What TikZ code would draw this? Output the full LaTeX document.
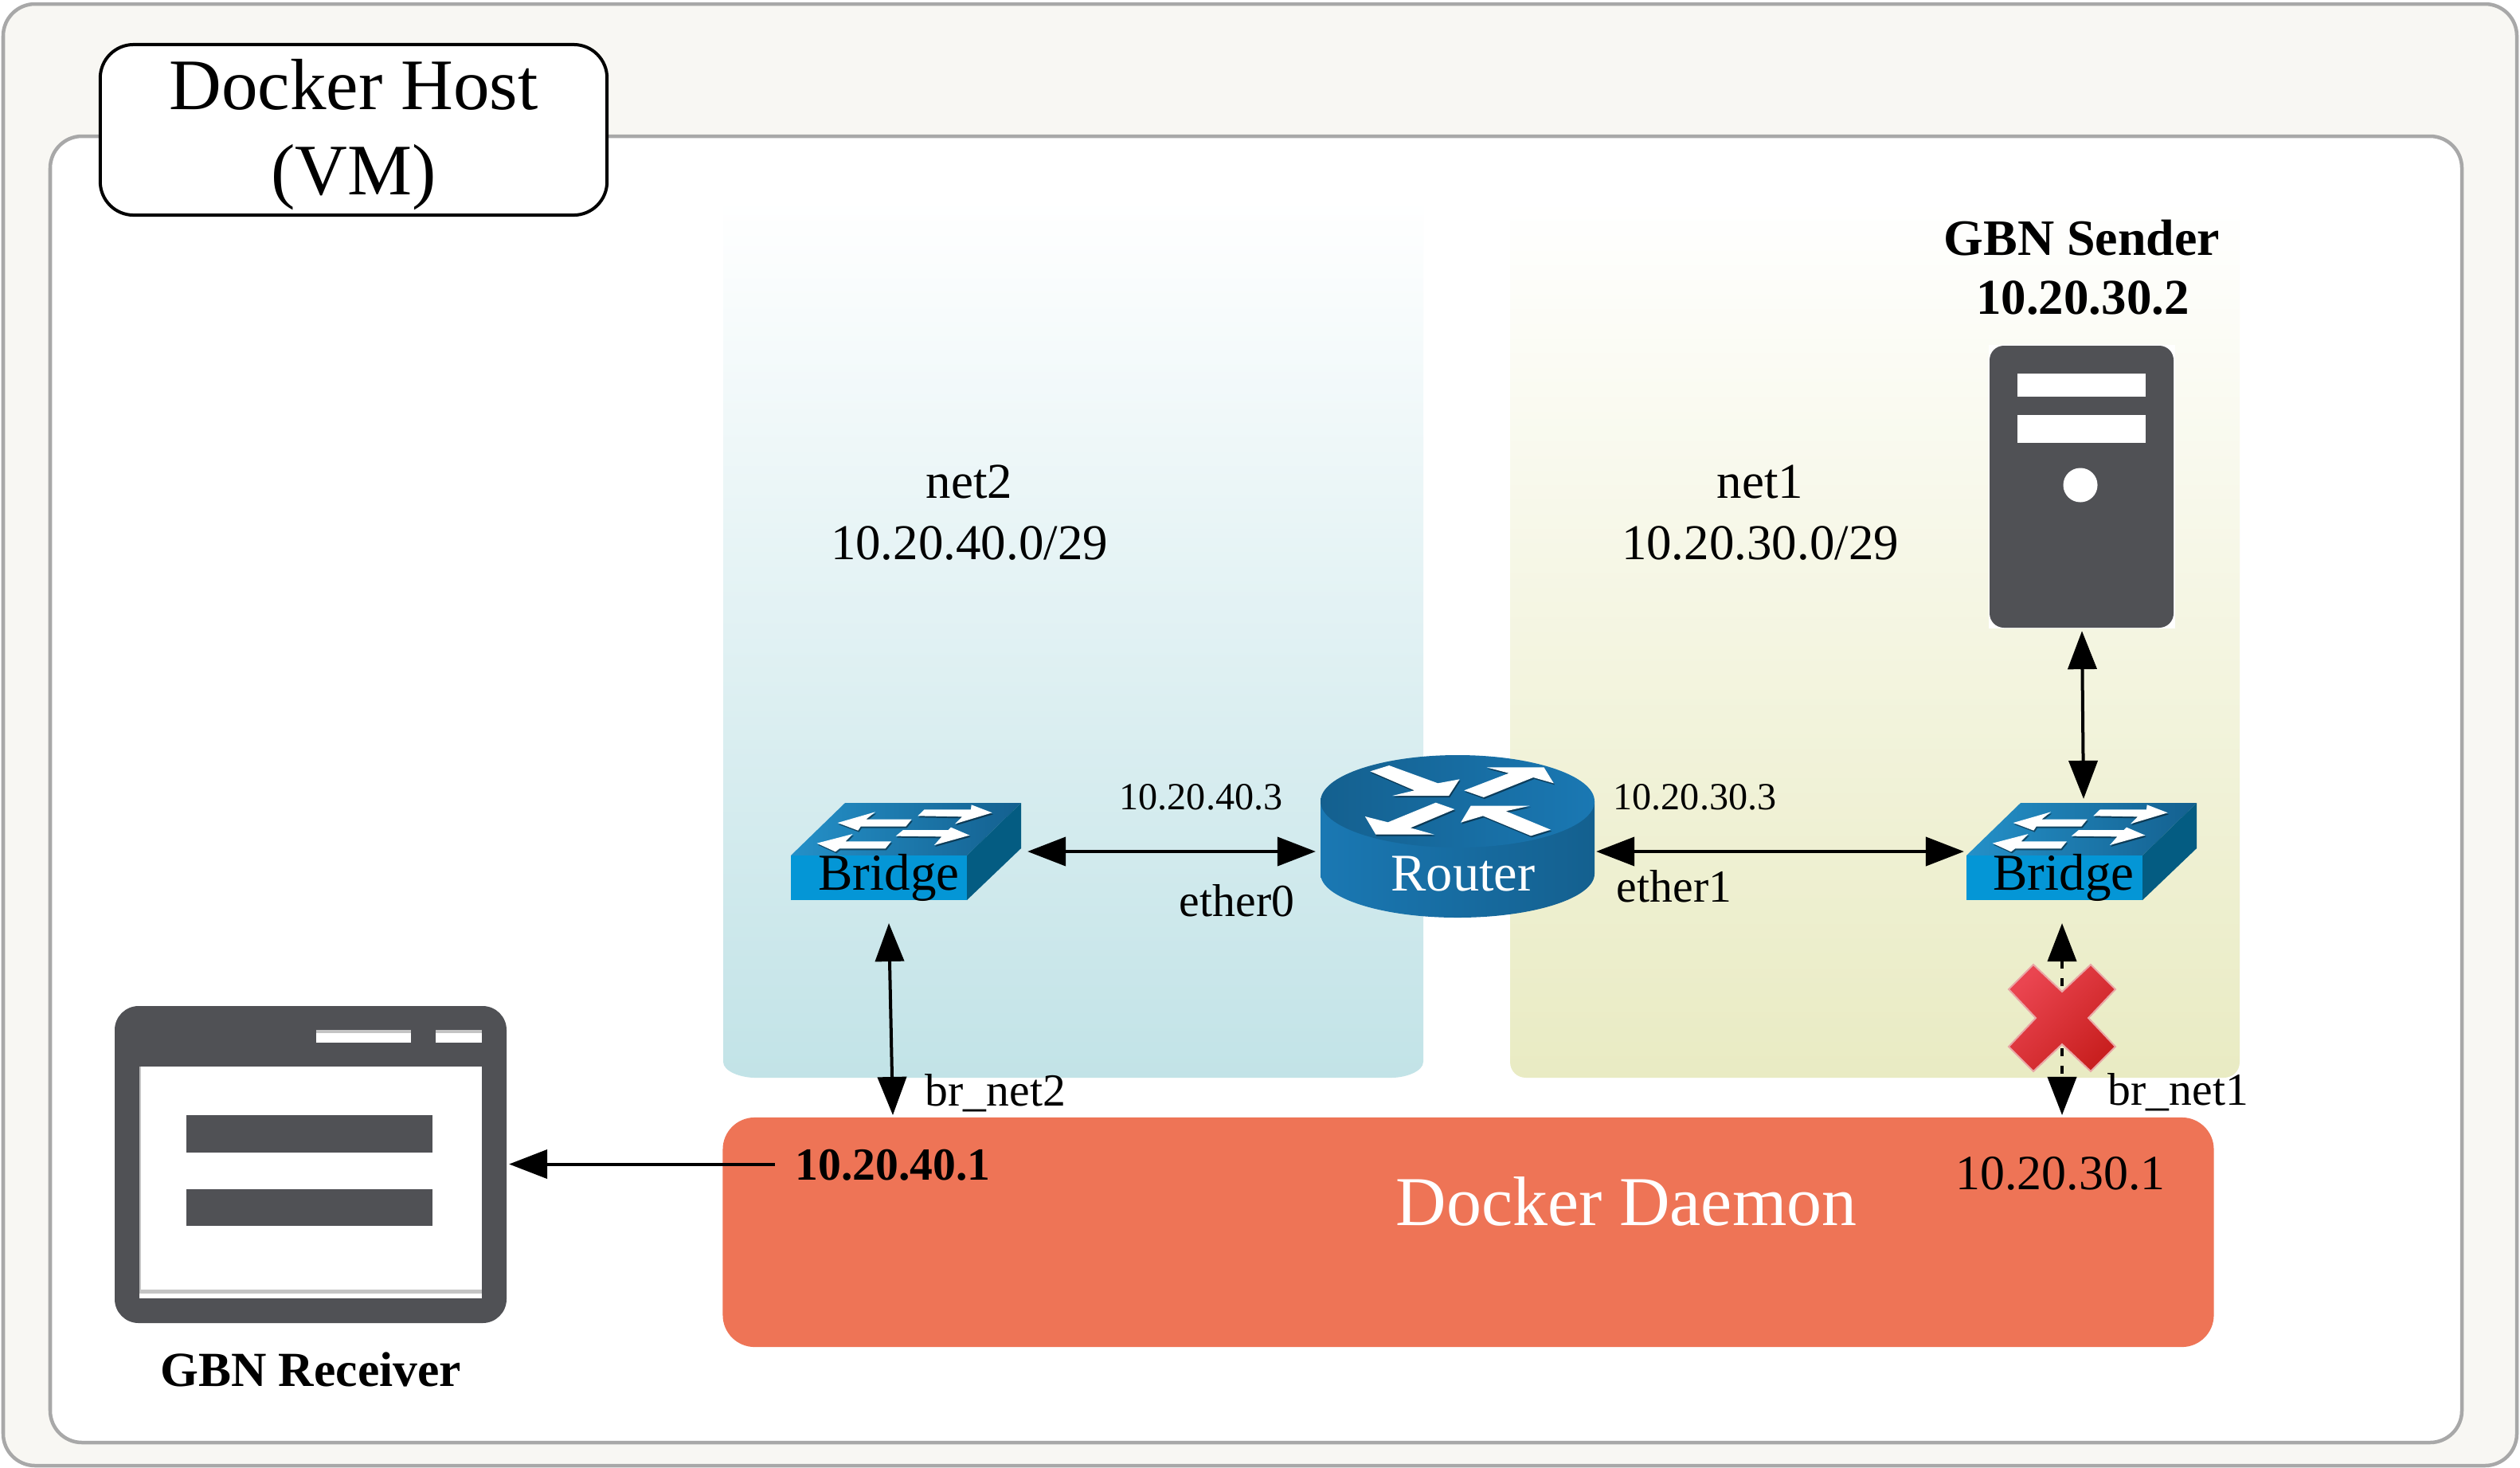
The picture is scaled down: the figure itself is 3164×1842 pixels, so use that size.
\documentclass[tikz,border=0pt]{standalone}
\usepackage{fontspec}
\setmainfont{Liberation Serif}
\usetikzlibrary{arrows.meta,shadows}
\definecolor{framegray}{HTML}{A8A8A8}
\definecolor{hostfill}{HTML}{F8F7F3}
\definecolor{panelblue}{HTML}{C2E3E7}
\definecolor{panelolive}{HTML}{E9EBC3}
\definecolor{daemon}{HTML}{EE7456}
\definecolor{icongray}{HTML}{505155}
\definecolor{ciscolight}{HTML}{1A78B3}
\definecolor{ciscodark}{HTML}{14608F}
\definecolor{bridgefront}{HTML}{0496D6}
\definecolor{bridgeside}{HTML}{045C82}
\definecolor{bridgetop}{HTML}{2490C8}
\definecolor{crosslight}{HTML}{EA4550}
\definecolor{crossdark}{HTML}{C92020}
\newcommand{\fs}[1]{\fontsize{#1}{#1}\selectfont}
\tikzset{
	frame/.style={draw=framegray,line width=0.045cm,rounded corners=0.4cm},
	link/.style={line width=0.04cm,{Triangle[length=0.48cm,width=0.36cm]}-{Triangle[length=0.48cm,width=0.36cm]}},
	onelink/.style={line width=0.04cm,{Triangle[length=0.48cm,width=0.36cm]}-},
	devbox/.style={inner sep=0pt,outer sep=0pt},
	lab/.style={anchor=base,inner sep=0pt,outer sep=0pt},
	iconarrow/.style={fill=white,drop shadow={shadow xshift=0.012cm,shadow yshift=-0.02cm,opacity=0.45,fill=black}},
	bridgeicon/.pic={
		\shade[left color=bridgetop,right color=ciscodark] (0,66) -- (68,0) -- (289,0) -- (221,66) -- cycle;
		\fill[bridgefront] (0,66) rectangle (221,122);
		\fill[bridgeside] (221,66) -- (289,0) -- (289,57) -- (221,122) -- cycle;
		\begin{scope}[shift={(-119,-57.67)},scale=0.3333]
			\fill[iconarrow] (533,248) -- (675,207) -- (640,235) -- (812,235) -- (790,262) -- (620,262) -- (610,277) -- cycle;
			\fill[iconarrow] (835,222) -- (860,198) -- (1035,198) -- (1037,180) -- (1115,210) -- (975,252) -- (1002,225) -- cycle;
			\fill[iconarrow] (455,325) -- (590,290) -- (563,318) -- (735,318) -- (713,345) -- (540,345) -- (525,357) -- cycle;
			\fill[iconarrow] (752,298) -- (780,275) -- (950,275) -- (960,265) -- (1030,295) -- (897,332) -- (925,300) -- cycle;
		\end{scope}
	}
}
\begin{document}
\begin{tikzpicture}[x=0.01cm,y=-0.01cm]
	\useasboundingbox (0,0) rectangle (3164,1842);
	% host and VM frames
	\draw[frame,fill=hostfill] (4,5) rectangle (3160,1840);
	\draw[frame,fill=white] (63,171) rectangle (3091,1811);

	% the two networks
	\shade[top color=white,bottom color=panelblue] (908,250) -- (908,1333) .. controls (908,1345) and (930,1353) .. (948,1353) -- (1747,1353) .. controls (1765,1353) and (1787,1345) .. (1787,1333) -- (1787,250) -- cycle;
	\shade[top color=white,bottom color=panelolive] (1896,250) -- (1896,1333) .. controls (1896,1345) and (1905,1353) .. (1916,1353) -- (2792,1353) .. controls (2803,1353) and (2812,1345) .. (2812,1333) -- (2812,250) -- cycle;

	\node[draw=black,fill=white,line width=0.04cm,rounded corners=0.42cm,minimum width=6.36cm,minimum height=2.14cm,align=center,inner sep=0pt,font=\fontsize{25.9}{30.4}\selectfont] (HostLabel) at (444,163) {\rule{0pt}{0.76cm}Docker Host\\(VM)};

	\node[fill=daemon,rounded corners=0.4cm,minimum width=18.71cm,minimum height=2.88cm,inner sep=0pt] (Daemon) at (1843.5,1547) {};

	% devices
	\pic at (993,1008) {bridgeicon};
	\pic at (2469,1008) {bridgeicon};
	\shade[left color=ciscolight,right color=ciscodark] (1658,1006) -- (1658,1097) arc[start angle=180,end angle=0,x radius=172,y radius=55] -- (2002,1006) -- cycle;
	\shade[left color=ciscodark,right color=ciscolight] (1830,1006) ellipse [x radius=172,y radius=58];
	\begin{scope}[shift={(1640,930)},xscale=0.3827,yscale=0.3333]
		\fill[iconarrow] (210,115) -- (272,93) -- (432,160) -- (503,145) -- (468,207) -- (283,207) -- (355,187) -- cycle;
		\fill[iconarrow] (518,187) -- (665,122) -- (592,100) -- (780,100) -- (812,160) -- (745,138) -- (582,213) -- cycle;
		\fill[iconarrow] (487,258) -- (425,233) -- (268,307) -- (193,285) -- (228,353) -- (420,353) -- (342,328) -- cycle;
		\fill[iconarrow] (507,308) -- (580,283) -- (737,358) -- (802,335) -- (655,265) -- (733,245) -- (540,245) -- cycle;
	\end{scope}

	% GBN sender
	\fill[white] (2497,433) rectangle (2731,789);
	\fill[icongray,rounded corners=0.18cm] (2498,434) rectangle (2729,788);
	\fill[white] (2533,469) rectangle (2694,497.5);
	\fill[white] (2533,521) rectangle (2694,556);
	\fill[white] (2612,609) circle (0.215cm);

	% GBN receiver
	\fill[icongray,rounded corners=0.3cm] (144,1263) rectangle (636,1661);
	\fill[white] (175,1339) rectangle (605,1630);
	\fill[black!23] (175,1339) rectangle (177,1624);
	\fill[black!23] (175,1619) rectangle (605,1624);
	\fill[white] (397,1293) rectangle (516,1309);
	\fill[black!23] (397,1293) rectangle (516,1297);
	\fill[white] (547,1293) rectangle (605,1309);
	\fill[black!23] (547,1293) rectangle (605,1297);
	\fill[icongray] (234,1400) rectangle (543,1447);
	\fill[icongray] (234,1493) rectangle (543,1539);

	% boxes the connectors run to
	\node[devbox,minimum width=2.9cm,minimum height=1.22cm] (Bridge2) at (1145,1069) {};
	\node[devbox,minimum width=3cm,minimum height=1.32cm] (Bridge1) at (2616,1069) {};
	\node[devbox,minimum width=3.52cm,minimum height=2.42cm] (Router) at (1828,1069) {};
	\node[devbox,minimum width=2.31cm,minimum height=3.58cm] (Sender) at (2614,613) {};
	\node[devbox,minimum width=4.95cm,minimum height=3.98cm] (Receiver) at (391.5,1461.5) {};
	\coordinate (Bridge2S) at (1116,1159);
	\coordinate (Bridge1S) at (2589,1159);
	\coordinate (Daemon2N) at (1121,1400);
	\coordinate (Daemon1N) at (2589,1400);
	\coordinate (Daemon2W) at (973,1461.5);

	\draw[link] (Bridge2.east) -- (Router.west);
	\draw[link] (Router.east) -- (Bridge1.west);
	\draw[link] (Sender.south) -- (Bridge1.north);
	\draw[link] (Bridge2S) -- (Daemon2N);
	\draw[link,dash pattern=on 0.1cm off 0.12cm] (Bridge1S) -- (Daemon1N);
	\draw[onelink] (Receiver.east) -- (Daemon2W);

	% broken link
	\shade[draw=crossdark!40!white,line width=0.02cm,bottom color=crossdark,top color=crosslight,shading angle=45] (2589,1245) -- (2625,1211) -- (2656,1242) -- (2622,1278) -- (2656,1314) -- (2625,1345) -- (2589,1311) -- (2553,1345) -- (2522,1314) -- (2556,1278) -- (2522,1242) -- (2553,1211) -- cycle;

	% labels
	\node[lab,font=\fs{17.9}] (Net2Name) at (1217,625) {net2};
	\node[lab,font=\fs{17.9}] (Net2Addr) at (1217,702) {10.20.40.0/29};
	\node[lab,font=\fs{17.9}] (Net1Name) at (2210,625) {net1};
	\node[lab,font=\fs{17.9}] (Net1Addr) at (2210,702) {10.20.30.0/29};
	\node[lab,font=\fs{18.2}\bfseries] (SenderName) at (2614,320) {GBN Sender};
	\node[lab,font=\fs{17.9}\bfseries] (SenderAddr) at (2615,394) {10.20.30.2};
	\node[lab,font=\fs{17.5}\bfseries] (ReceiverName) at (390,1740) {GBN Receiver};
	\node[lab,font=\fs{18.5}] (Bridge2Name) at (1116,1117) {Bridge};
	\node[lab,font=\fs{18.5}] (Bridge1Name) at (2591,1117) {Bridge};
	\node[lab,font=\fs{18.9},text=white] (RouterName) at (1837,1118) {Router};
	\node[lab,font=\fs{13.7}] (Ether0Addr) at (1508,1016) {10.20.40.3};
	\node[lab,font=\fs{13.7}] (Ether1Addr) at (2128,1016) {10.20.30.3};
	\node[lab,font=\fs{16.4}] (Ether0Name) at (1553,1150) {ether0};
	\node[lab,font=\fs{16.4}] (Ether1Name) at (2102,1132) {ether1};
	\node[lab,font=\fs{16.4}] (BrNet2) at (1250,1388) {br\_net2};
	\node[lab,font=\fs{16.4}] (BrNet1) at (2735,1387) {br\_net1};
	\node[lab,font=\fs{16.4}\bfseries] (Daemon2Addr) at (1121,1481) {10.20.40.1};
	\node[lab,font=\fs{17.6}] (Daemon1Addr) at (2587,1493) {10.20.30.1};
	\node[lab,font=\fs{25},text=white] (DaemonName) at (2042,1538) {Docker Daemon};
\end{tikzpicture}
\end{document}
